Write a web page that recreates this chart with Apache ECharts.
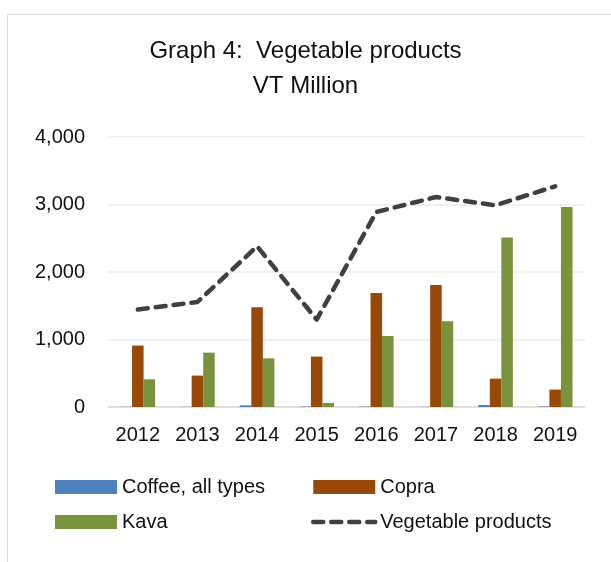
<!DOCTYPE html>
<html lang="en">
<head>
    <meta charset="utf-8" />
    <title>Graph 4: Vegetable products</title>
    <script src="https://cdn.jsdelivr.net/npm/echarts@6/dist/echarts.min.js"></script>
    <style>
        html, body { margin: 0; padding: 0; background: #fff; }
        #chart { width: 611px; height: 562px; }
    </style>
</head>
<body>
    <div id="chart"></div>
    <script>
        // data (VT million)
        var years = ['2012', '2013', '2014', '2015', '2016', '2017', '2018', '2019'];
        var coffee = [3, 2, 25, 6, 6, 3, 30, 8];
        var copra = [910, 465, 1477, 747, 1689, 1807, 420, 258];
        var kava = [410, 805, 721, 60, 1052, 1270, 2510, 2963];
        var vegetable = [1443, 1556, 2380, 1295, 2889, 3111, 2988, 3270];

        var font = 'Liberation Sans';
        var textColor = '#111';
        var lineColor = '#404040';

        var myChart = echarts.init(document.getElementById('chart'));

        var legendText = { fontFamily: font, fontSize: 20, color: textColor };
        var dash = { color: lineColor, width: 4.5, type: [10, 8], cap: 'round', join: 'round' };

        var option = {
            animation: false,
            title: {
                text: 'Graph 4:  Vegetable products\nVT Million',
                left: 'center',
                top: 29,
                textStyle: { fontFamily: font, fontSize: 24, fontWeight: 'normal', color: textColor, lineHeight: 35 }
            },
            graphic: [{
                type: 'rect',
                shape: { x: 7.5, y: 14.5, width: 640, height: 600 },
                style: { fill: 'none', stroke: '#d9d9d9', lineWidth: 1 },
                silent: true
            }],
            legend: [{
                data: [
                    { name: 'Coffee, all types', icon: 'rect' },
                    { name: 'Kava', icon: 'rect' }
                ],
                orient: 'vertical',
                left: 50, top: 472,
                itemWidth: 62, itemHeight: 14,
                itemGap: 15,
                textStyle: legendText
            }, {
                data: [
                    { name: 'Copra', icon: 'rect' },
                    { name: 'Vegetable products', itemStyle: { opacity: 0 }, lineStyle: dash }
                ],
                orient: 'vertical',
                left: 306, top: 472,
                itemWidth: 62, itemHeight: 14,
                itemGap: 15,
                textStyle: legendText
            }],
            grid: { left: 108, right: 26, top: 137, bottom: 155 },
            xAxis: {
                type: 'category',
                data: years,
                axisTick: { show: false },
                axisLine: { lineStyle: { color: '#d9d9d9', width: 1.5 } },
                axisLabel: { fontFamily: font, fontSize: 20, color: textColor, margin: 18 }
            },
            yAxis: {
                type: 'value',
                min: 0, max: 4000, interval: 1000,
                axisLine: { show: false },
                axisTick: { show: false },
                splitLine: { lineStyle: { color: '#ececec', width: 1.5 } },
                axisLabel: {
                    fontFamily: font, fontSize: 20, color: textColor, margin: 23,
                    formatter: function (v) { return v.toLocaleString('en-US'); }
                }
            },
            series: [{
                name: 'Coffee, all types',
                type: 'bar',
                data: coffee,
                barGap: '0%',
                barCategoryGap: '42%',
                itemStyle: { color: '#4f81bd' }
            }, {
                name: 'Copra',
                type: 'bar',
                data: copra,
                itemStyle: { color: '#984807' }
            }, {
                name: 'Kava',
                type: 'bar',
                data: kava,
                itemStyle: { color: '#77933c' }
            }, {
                name: 'Vegetable products',
                type: 'line',
                data: vegetable,
                symbol: 'none',
                itemStyle: { color: lineColor },
                lineStyle: dash,
                z: 5
            }]
        };

        myChart.setOption(option);
    </script>
</body>
</html>
